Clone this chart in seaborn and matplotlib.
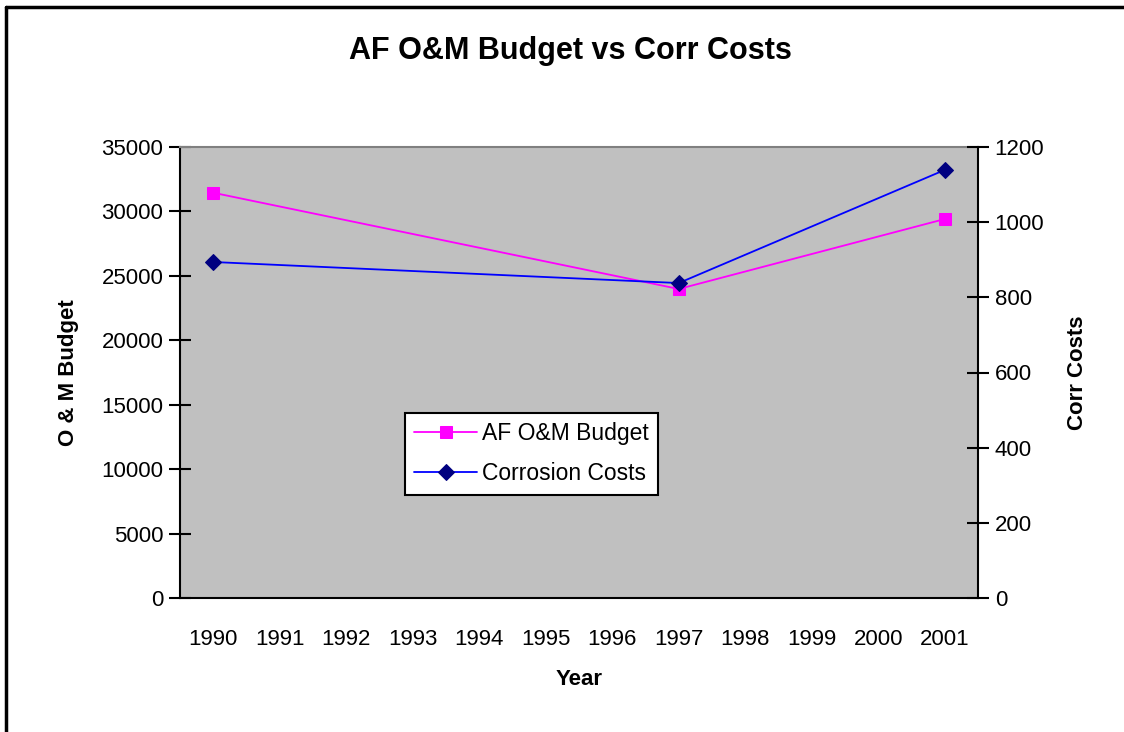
import numpy as np
import pandas as pd
import matplotlib
matplotlib.use("Agg")
import matplotlib.pyplot as plt
import seaborn as sns
from matplotlib.lines import Line2D

# data
years = ["1990", "1991", "1992", "1993", "1994", "1995", "1996",
         "1997", "1998", "1999", "2000", "2001"]
data_years = ["1990", "1997", "2001"]
budget = [31450, 23980, 29410]
corr_costs = [894, 838, 1139]

sns.set_style("white")
plt.rcParams['font.family'] = ['Liberation Sans', 'DejaVu Sans']
plt.rcParams['text.color'] = 'black'
plt.rcParams['axes.labelcolor'] = 'black'
plt.rcParams['xtick.color'] = 'black'
plt.rcParams['ytick.color'] = 'black'

df = pd.DataFrame({
    "year": data_years,
    "pos": [years.index(y) + 0.5 for y in data_years],
    "budget": budget,
    "corr": corr_costs,
})

fig = plt.figure(figsize=(11.24, 7.32), dpi=100)
ax = fig.add_axes([180 / 1124, 134 / 732, 798 / 1124, 451 / 732])
ax.set_facecolor("#C0C0C0")
ax2 = ax.twinx()

sns.lineplot(data=df, x="pos", y="budget", ax=ax, color="#FF00FF", lw=1.3,
             marker="s", markersize=8.5, markerfacecolor="#FF00FF",
             markeredgecolor="#FF00FF", label="AF O&M Budget", legend=False)
sns.lineplot(data=df, x="pos", y="corr", ax=ax2, color="#0000FF", lw=1.3,
             marker="D", markersize=8, markerfacecolor="#000080",
             markeredgecolor="#000080", label="Corrosion Costs", legend=False)

ax.set_xlim(0, len(years))
ax.set_ylim(0, 35000)
ax2.set_ylim(0, 1200)
ax.set_yticks(np.arange(0, 35001, 5000))
ax2.set_yticks(np.arange(0, 1201, 200))

# ticks at category edges, labels at centres
ax.set_xticks(np.arange(0, len(years) + 1))
ax.set_xticklabels([])
ax.set_xticks(np.arange(len(years)) + 0.5, minor=True)
ax.set_xticklabels(years, minor=True)
ax.tick_params(axis="x", which="major", direction="inout", length=14, width=1.5)
ax.tick_params(axis="x", which="minor", length=0, pad=22, labelsize=16)
ax.tick_params(axis="y", direction="inout", length=16, width=1.5, labelsize=16, pad=4)
ax2.tick_params(axis="y", direction="inout", length=16, width=1.5, labelsize=16, pad=4)

for a in (ax, ax2):
    for s in a.spines.values():
        s.set_visible(False)
ax.spines["left"].set_visible(True)
ax.spines["left"].set_linewidth(1.5)
ax.spines["bottom"].set_visible(True)
ax.spines["bottom"].set_linewidth(1.5)
ax2.spines["right"].set_visible(True)
ax2.spines["right"].set_linewidth(1.5)
ax.spines["top"].set_visible(True)
ax.spines["top"].set_color("#808080")
ax.spines["top"].set_linewidth(1.5)
for s in ("left", "bottom"):
    ax.spines[s].set_color("black")
ax2.spines["right"].set_color("black")

ax.set_xlabel("Year", fontsize=16, fontweight="bold", labelpad=14)
ax.set_ylabel("O & M Budget", fontsize=16, fontweight="bold", labelpad=16)
ax2.set_ylabel("Corr Costs", fontsize=16, fontweight="bold", labelpad=16)

fig.text(570 / 1124, 1 - 51 / 732, "AF O&M Budget vs Corr Costs",
         ha="center", va="center", fontsize=22, fontweight="bold")

h1, l1 = ax.get_legend_handles_labels()
h2, l2 = ax2.get_legend_handles_labels()
leg = ax2.legend(h1 + h2, l1 + l2, loc="upper left",
                 bbox_to_anchor=((405 - 180) / 798, (598 - 413) / 451),
                 fontsize=16.5, frameon=True, fancybox=False, framealpha=1,
                 edgecolor="black", handlelength=2.75, borderpad=0.4,
                 labelspacing=0.75, handletextpad=0.2, borderaxespad=0)
leg.get_frame().set_linewidth(1.5)

# outer chart frame
fig.add_artist(Line2D([6 / 1124, 6 / 1124], [0, 1 - 7 / 732], color="black", lw=2.5,
                      transform=fig.transFigure))
fig.add_artist(Line2D([6 / 1124, 1], [1 - 7 / 732, 1 - 7 / 732], color="black", lw=2.5,
                      transform=fig.transFigure))

fig.savefig("out.png", dpi=100)
